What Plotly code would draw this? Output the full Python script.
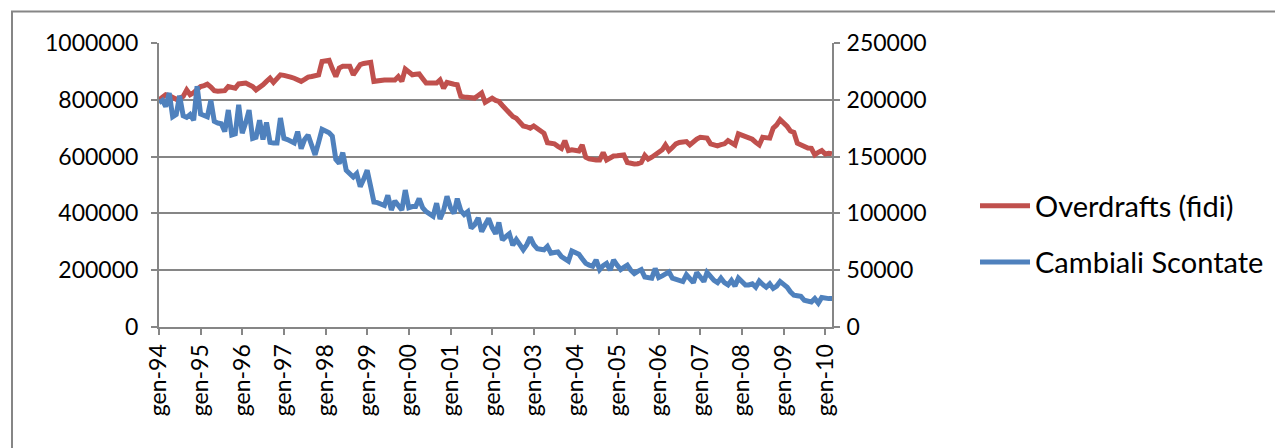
import pandas as pd
import plotly.graph_objects as go

# Monthly data, Jan 1994 .. Mar 2010
start_month = "1994-01-01"
n_months = 195

# Overdrafts (fidi) - left axis, in thousands
overdrafts_k = [
    800, 808, 818, 815, 808, 802, 806, 812, 835, 818, 825, 835,
    847, 850, 855, 845, 832, 830, 831, 832, 847, 844, 841, 856,
    858, 859, 853, 847, 835, 843, 853, 865, 876, 861, 875, 888,
    886, 885, 880, 876, 870, 865, 872, 880, 882, 885, 888, 935,
    938, 939, 910, 882, 912, 918, 918, 918, 888, 905, 924, 928,
    930, 932, 865, 868, 870, 870, 870, 870, 870, 882, 865, 908,
    895, 888, 890, 891, 875, 859, 859, 859, 859, 870, 841, 861,
    856, 855, 853, 812, 810, 808, 806, 806, 815, 824, 791, 800,
    806, 798, 794, 780, 765, 752, 741, 735, 720, 708, 705, 700,
    708, 700, 694, 682, 649, 647, 645, 636, 629, 656, 621, 624,
    622, 620, 641, 598, 592, 588, 588, 588, 614, 588, 595, 602,
    603, 604, 606, 579, 576, 574, 575, 579, 604, 591, 598, 605,
    614, 624, 641, 621, 632, 645, 650, 653, 653, 641, 655, 662,
    668, 665, 665, 645, 640, 638, 642, 645, 656, 648, 641, 680,
    676, 671, 665, 661, 650, 641, 668, 665, 665, 700, 712, 730,
    720, 706, 690, 685, 647, 640, 633, 630, 629, 606, 615, 621,
    609, 612, 610,
]

# Cambiali Scontate - right axis, in thousands
cambiali_k = [
    197.5, 199.5, 194, 206, 185, 187, 203.5, 186, 184.5, 187, 182, 212,
    187.5, 185.5, 185, 199.5, 181, 179.5, 179, 172, 191, 169, 170, 195.5,
    170.5, 180, 191, 166, 167, 182, 165, 180, 162.5, 162, 162, 184,
    166, 165, 163.5, 162, 172, 157, 165, 169, 160, 151.5, 162.5, 174,
    172.5, 171, 168, 147.5, 144, 153.5, 138, 135, 132, 135, 123.5, 130,
    138, 123.5, 110, 109.5, 108, 107, 116, 103, 111, 107.5, 103, 120.5,
    105, 106, 106, 113, 105, 101.5, 99.5, 97.5, 109, 95, 102.5, 115,
    105, 100, 113, 102.5, 99, 101.5, 87, 90, 96, 84, 90, 95.5,
    87.5, 82, 92, 76.5, 79.5, 82, 72, 77, 72.5, 68, 72.5, 79,
    72.5, 69, 68.5, 68, 71, 65, 65.5, 66, 62, 60, 58, 67,
    65.5, 64, 60, 56, 54.5, 53.5, 59, 50.5, 54, 56, 50, 59,
    54.5, 50.5, 52.5, 54.5, 50, 47, 49, 50.5, 44, 44, 43, 51.5,
    43.5, 45, 47, 48.5, 43, 42, 42, 40, 46, 42.5, 39, 48,
    44, 40, 48, 44, 41, 39, 43, 39, 37, 41, 36, 43,
    40, 37, 37, 38, 35, 40.5, 37.5, 35, 38, 34, 36, 40,
    37.5, 35, 31, 28, 27.5, 27, 23.5, 22.5, 22, 25, 21, 26,
    25, 25, 25,
]

tick_dates = [f"{y}-01-01" for y in range(1994, 2011)]
tick_labels = ["gen-94", "gen-95", "gen-96", "gen-97", "gen-98", "gen-99", "gen-00",
               "gen-01", "gen-02", "gen-03", "gen-04", "gen-05", "gen-06", "gen-07",
               "gen-08", "gen-09", "gen-10"]

months = pd.date_range(start_month, periods=n_months, freq="MS")
overdrafts = [v * 1000 for v in overdrafts_k]
cambiali = [v * 1000 for v in cambiali_k]

RED = "#C0504D"
BLUE = "#4F81BD"
GRID = "#868686"
FONT = "Lato, 'Open Sans', sans-serif"

fig = go.Figure()
fig.add_trace(go.Scatter(x=months, y=overdrafts, name="Overdrafts (fidi)", mode="lines",
                         line=dict(color=RED, width=5), yaxis="y", legend="legend"))
fig.add_trace(go.Scatter(x=months, y=cambiali, name="Cambiali Scontate", mode="lines",
                         line=dict(color=BLUE, width=5), yaxis="y2", legend="legend2"))

OFF = 8  # page body offset
W, H = 1283 - OFF, 448 - OFF
L, R, T, B = 159 - OFF, 832 - OFF, 43.4 - OFF, 326.7 - OFF
pw, ph = R - L, B - T


def px_x(x):
    return (x - OFF - L) / pw


def px_y(y):
    return (B - (y - OFF)) / ph


fig.update_layout(
    width=W, height=H,
    margin=dict(l=L, r=W - R, t=T, b=H - B, autoexpand=False),
    paper_bgcolor="white", plot_bgcolor="white",
    font=dict(family=FONT, size=23, color="black"),
    showlegend=True,
    xaxis=dict(
        type="date", range=[months[0], months[-1]],
        tickmode="array", tickvals=tick_dates, ticktext=tick_labels,
        tickangle=-90, ticks="outside", ticklen=6, tickcolor=GRID, tickwidth=1.5,
        showline=True, linecolor=GRID, linewidth=2, showgrid=False, zeroline=False,
        tickfont=dict(size=23),
    ),
    yaxis=dict(
        range=[0, 1000000], tickvals=[0, 200000, 400000, 600000, 800000, 1000000],
        ticktext=["0", "200000", "400000", "600000", "800000", "1000000"],
        ticks="outside", ticklen=6, tickcolor=GRID, tickwidth=1.5,
        showline=True, linecolor=GRID, linewidth=2,
        showgrid=True, gridcolor=GRID, gridwidth=1.5, zeroline=False,
        ticklabelstandoff=8, tickfont=dict(size=23),
    ),
    yaxis2=dict(
        range=[0, 250000], overlaying="y", side="right",
        tickvals=[0, 50000, 100000, 150000, 200000, 250000],
        ticktext=["0", "50000", "100000", "150000", "200000", "250000"],
        ticks="outside", ticklen=6, tickcolor=GRID, tickwidth=1.5,
        showline=True, linecolor=GRID, linewidth=2, showgrid=False, zeroline=False,
        ticklabelstandoff=2, tickfont=dict(size=23),
    ),
    legend=dict(x=px_x(975), y=px_y(206), xanchor="left", yanchor="middle",
                font=dict(size=29), itemwidth=50, bgcolor="rgba(0,0,0,0)"),
    legend2=dict(x=px_x(975), y=px_y(262), xanchor="left", yanchor="middle",
                 font=dict(size=29), itemwidth=50, bgcolor="rgba(0,0,0,0)"),
    shapes=[dict(type="rect", xref="paper", yref="paper",
                 x0=px_x(12), x1=px_x(1280), y0=px_y(452), y1=px_y(12),
                 line=dict(color=GRID, width=2), fillcolor="rgba(0,0,0,0)", layer="below")],
)

fig.write_html("out.html")
